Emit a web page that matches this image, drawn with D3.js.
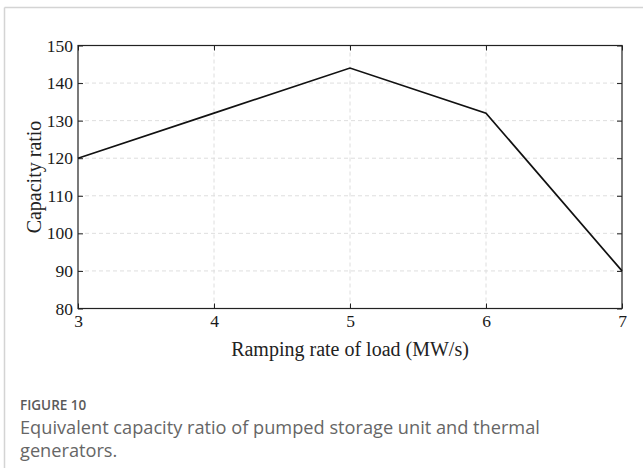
<!DOCTYPE html>
<html><head><meta charset="utf-8">
<script src="https://cdn.jsdelivr.net/npm/d3@7"></script>
<style>html,body{margin:0;padding:0;background:#fff;}svg{display:block;}</style>
</head><body>
<script>
const xValues = [3, 4, 5, 6, 7];
const yValues = [120, 132, 144, 132, 90];
const xTicks = [3, 4, 5, 6, 7];
const yTicks = [80, 90, 100, 110, 120, 130, 140, 150];
const xLabel = "Ramping rate of load (MW/s)";
const yLabel = "Capacity ratio";
const figLabel = "FIGURE 10";
const captionLines = ["Equivalent capacity ratio of pumped storage unit and thermal", "generators."];

const W = 643, H = 468;
const svg = d3.select("body").append("svg").attr("width", W).attr("height", H);

// frame
svg.append("line").attr("x1", 4.5).attr("x2", W).attr("y1", 7.5).attr("y2", 7.5).attr("stroke", "#d4d4d4").attr("stroke-width", 1.5);
svg.append("line").attr("x1", 4.5).attr("x2", 4.5).attr("y1", 7.5).attr("y2", H).attr("stroke", "#d4d4d4").attr("stroke-width", 1.5);

const L = 78, R = 622, T = 45.5, B = 308.5;
const x = d3.scaleLinear().domain([3, 7]).range([L, R]);
const y = d3.scaleLinear().domain([80, 150]).range([B, T]);

const serif = "'Liberation Serif','Times New Roman',serif";

// grid
const g = svg.append("g");
g.selectAll(".gx").data(xTicks.slice(1, -1)).enter().append("line")
  .attr("x1", d => x(d)).attr("x2", d => x(d)).attr("y1", T).attr("y2", B)
  .attr("stroke", "#dedede").attr("stroke-dasharray", "4,3").attr("stroke-width", 1);
g.selectAll(".gy").data(yTicks.slice(1, -1)).enter().append("line")
  .attr("x1", L).attr("x2", R).attr("y1", d => y(d)).attr("y2", d => y(d))
  .attr("stroke", "#dedede").attr("stroke-dasharray", "4,3").attr("stroke-width", 1);

// axes
const ax = svg.append("g").attr("transform", `translate(0,${B})`)
  .call(d3.axisBottom(x).tickValues(xTicks).tickSize(-5).tickPadding(6).tickFormat(d3.format("d")));
const axT = svg.append("g").attr("transform", `translate(0,${T})`)
  .call(d3.axisTop(x).tickValues(xTicks).tickSize(-5).tickFormat(""));
const ay = svg.append("g").attr("transform", `translate(${L},0)`)
  .call(d3.axisLeft(y).tickValues(yTicks).tickSize(-5).tickPadding(5).tickFormat(d3.format("d")));
const ayR = svg.append("g").attr("transform", `translate(${R},0)`)
  .call(d3.axisRight(y).tickValues(yTicks).tickSize(-5).tickFormat(""));
[ax, axT, ay, ayR].forEach(a => {
  a.attr("font-size", null).attr("font-family", null);
  a.selectAll("path.domain").remove();
  a.selectAll("line").attr("stroke", "#222");
  a.selectAll("text").style("font-family", serif).style("font-size", "17.5px").attr("fill", "#1a1a1a");
});

// box
svg.append("rect").attr("x", L).attr("y", T).attr("width", R - L).attr("height", B - T)
  .attr("fill", "none").attr("stroke", "#222").attr("stroke-width", 1.2);

// line
const line = d3.line().x((d, i) => x(xValues[i])).y(d => y(d));
svg.append("path").datum(yValues).attr("d", line)
  .attr("fill", "none").attr("stroke", "#111").attr("stroke-width", 1.7);

// labels
svg.append("text").attr("x", (L + R) / 2).attr("y", 356).attr("text-anchor", "middle")
  .style("font-family", serif).style("font-size", "20px").attr("fill", "#222").text(xLabel);
svg.append("text").attr("transform", `translate(41,${(T + B) / 2}) rotate(-90)`).attr("text-anchor", "middle")
  .style("font-family", serif).style("font-size", "20px").attr("fill", "#222").text(yLabel);

// caption
svg.append("text").attr("x", 20).attr("y", 410).style("font-family", "'Open Sans',sans-serif")
  .style("font-size", "13.5px").attr("font-weight", 600).attr("fill", "#5a5a5a").text(figLabel);
captionLines.forEach((t, i) => {
  svg.append("text").attr("x", 20).attr("y", 434 + i * 23).style("font-family", "'Open Sans',sans-serif")
    .style("font-size", "18.2px").attr("fill", "#666").text(t);
});
</script>
</body></html>
